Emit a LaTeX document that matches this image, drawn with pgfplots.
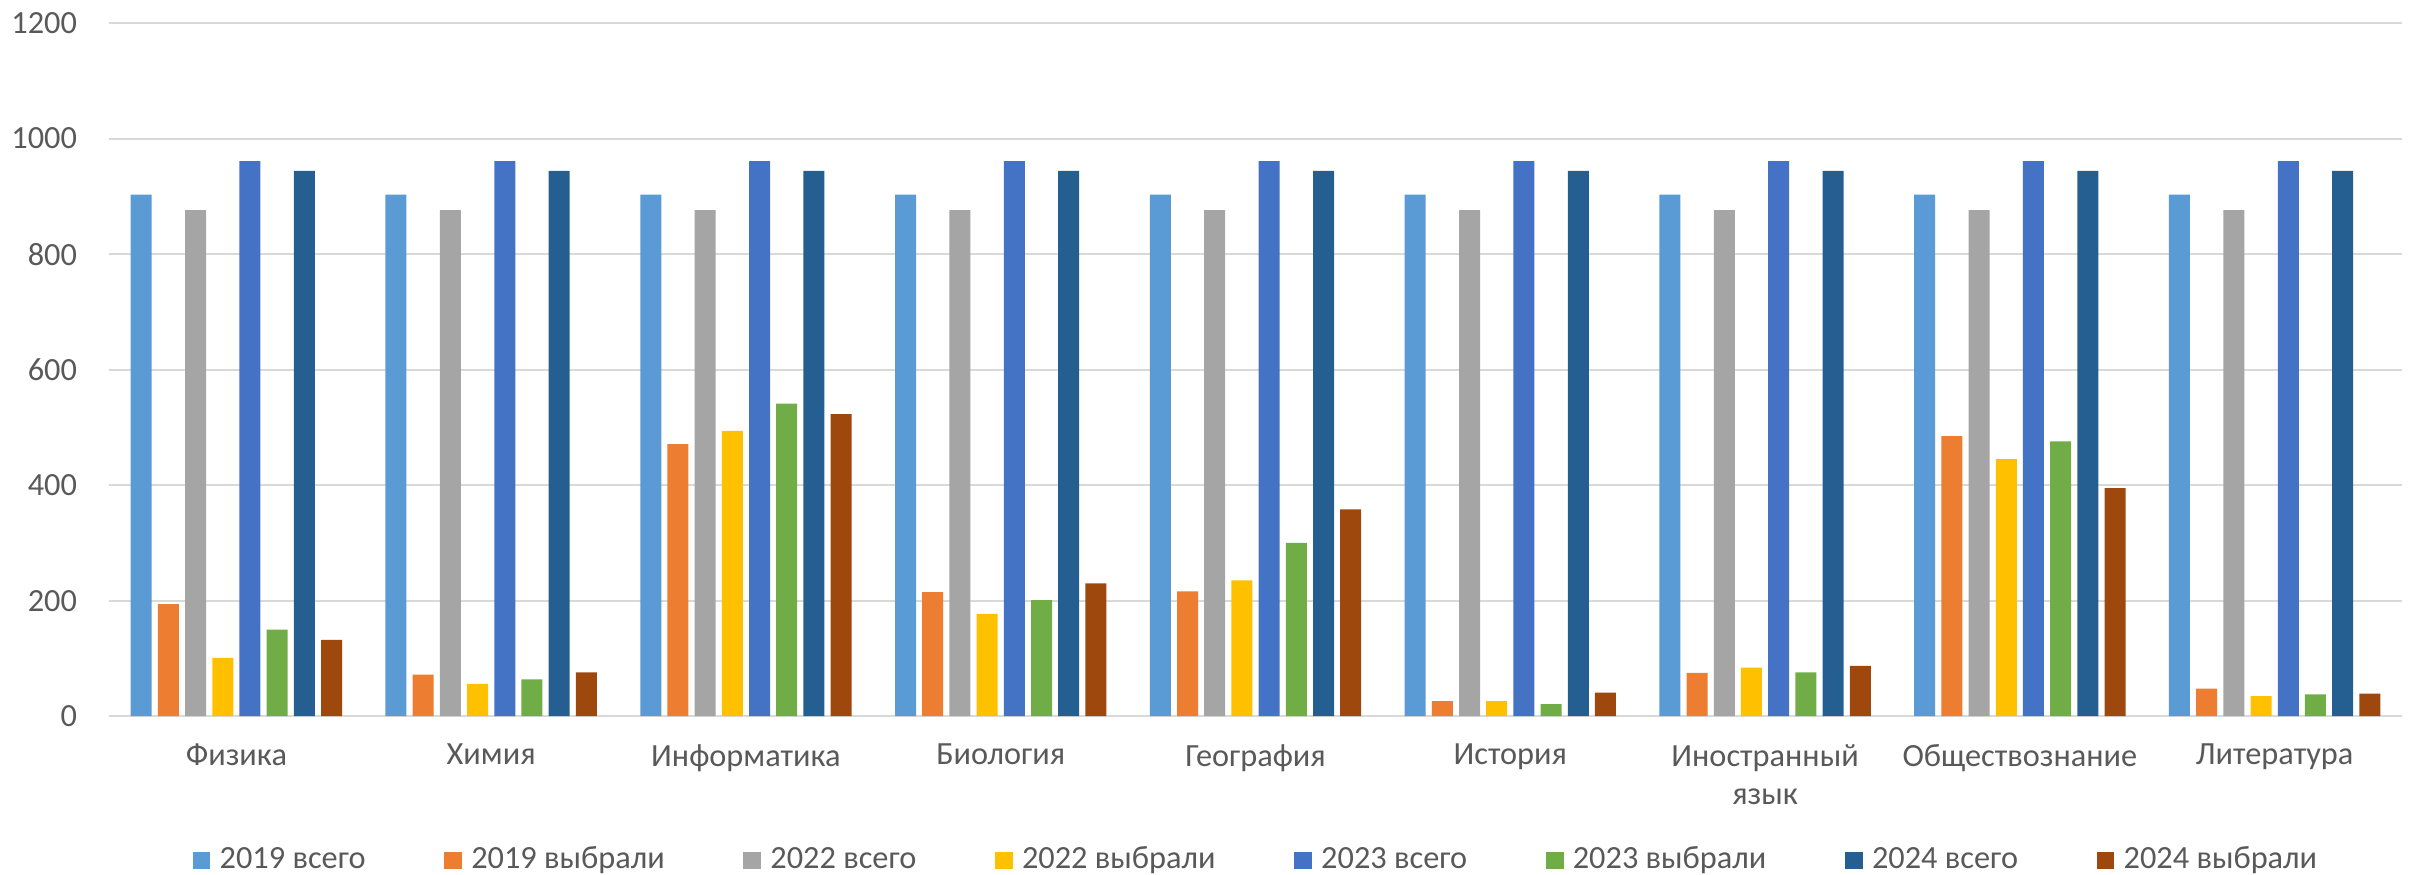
\documentclass[border=0pt]{standalone}
\usepackage{fontspec}
\setmainfont{Carlito}
\usepackage{pgfplots}
\usepackage{pgfplotstable}
\pgfplotsset{compat=1.18}
\definecolor{c1}{HTML}{5B9BD5}
\definecolor{c2}{HTML}{ED7D31}
\definecolor{c3}{HTML}{A5A5A5}
\definecolor{c4}{HTML}{FFC000}
\definecolor{c5}{HTML}{4472C4}
\definecolor{c6}{HTML}{70AD47}
\definecolor{c7}{HTML}{255E91}
\definecolor{c8}{HTML}{9E480E}
\definecolor{tgray}{HTML}{595959}
\definecolor{ggray}{HTML}{D9D9D9}
\pgfplotstableread{
x a b c d e f g h
0 903 194 876 101 961 150 944 132
1 903 72 876 56 961 64 944 76
2 903 471 876 494 961 541 944 523
3 903 215 876 177 961 201 944 230
4 903 216 876 235 961 300 944 358
5 903 26 876 26 961 21 944 41
6 903 75 876 84 961 76 944 87
7 903 485 876 445 961 476 944 395
8 903 48 876 35 961 38 944 39
}\data
\newcommand{\ff}{\fontsize{9.7pt}{11.4pt}\selectfont}
\begin{document}
\begin{tikzpicture}
\begin{axis}[
  width=688pt, height=208pt, scale only axis,
  xmin=-0.5, xmax=8.5, ymin=0, ymax=1200,
  ybar=1.86pt, bar width=6.3pt,
  xtick={0,...,8},
  xticklabels={Физика,Химия,Информатика,Биология,География,История,{Иностранный\\язык},Обществознание,Литература},
  ytick={0,200,...,1200},
  major tick length=0pt,
  axis line style={draw=none},
  ymajorgrids, grid style={ggray, line width=0.6pt},
  /pgf/number format/assume math mode=true,
  /pgf/number format/1000 sep={},
  yticklabel style={font=\ff, text=tgray, inner xsep=0pt, xshift=-9.4pt},
  xticklabel style={font=\ff, text=tgray, align=center, inner ysep=0pt, yshift=-8.2pt},
  legend columns=8,
  legend image code/.code={\fill[#1] (0pt,-2.65pt) rectangle (5.3pt,2.65pt);},
  legend style={draw=none, at={(0.0362,-0.208)}, anchor=west, inner sep=0pt,
    font=\ff, text=tgray,
    nodes={inner xsep=0pt, inner ysep=0pt},
    /tikz/every odd column/.style={column sep=2.8pt},
    /tikz/every even column/.style={column sep=23.6pt}},
]
\addplot[fill=c1, draw=none] table[x=x,y=a]{\data};
\addplot[fill=c2, draw=none] table[x=x,y=b]{\data};
\addplot[fill=c3, draw=none] table[x=x,y=c]{\data};
\addplot[fill=c4, draw=none] table[x=x,y=d]{\data};
\addplot[fill=c5, draw=none] table[x=x,y=e]{\data};
\addplot[fill=c6, draw=none] table[x=x,y=f]{\data};
\addplot[fill=c7, draw=none] table[x=x,y=g]{\data};
\addplot[fill=c8, draw=none] table[x=x,y=h]{\data};
\legend{2019 всего,2019 выбрали,2022 всего,2022 выбрали,2023 всего,2023 выбрали,2024 всего,2024 выбрали}
\end{axis}
\pgfresetboundingbox
\useasboundingbox ([xshift=-32.7pt,yshift=-47.4pt]current axis.south west) rectangle ([xshift=9.3pt,yshift=6.9pt]current axis.north east);
\end{tikzpicture}
\end{document}
